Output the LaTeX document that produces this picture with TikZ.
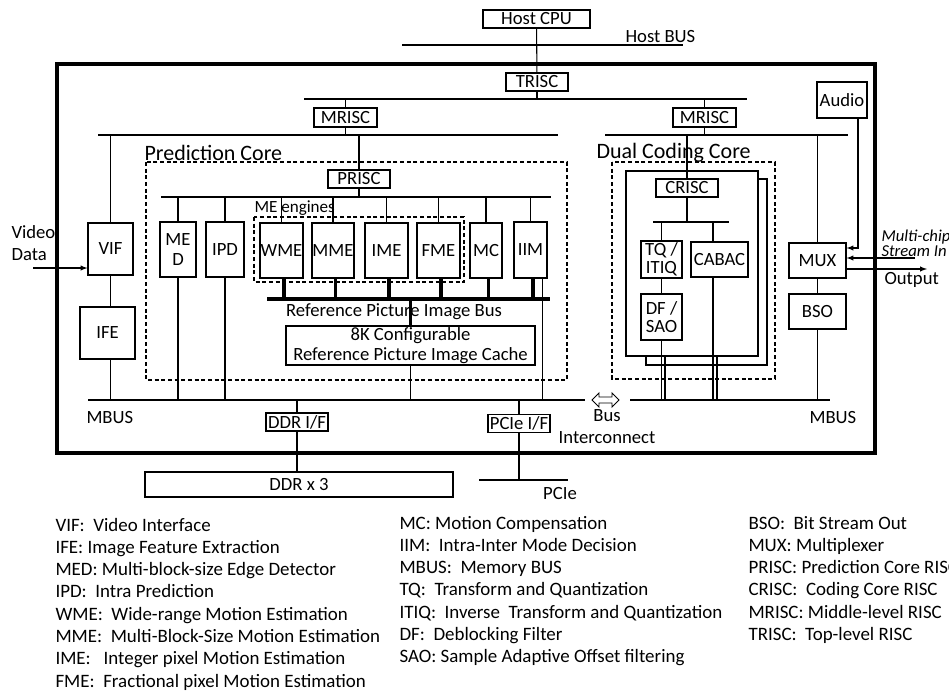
\documentclass[tikz,border=0pt]{standalone}
\usepackage{fontspec}
\setmainfont{Carlito}
\usetikzlibrary{arrows}

\tikzset{
  blk/.style 2 args={draw, inner sep=0pt, align=center,
    minimum width=#1*0.75pt, minimum height=#2*0.75pt},
  thickbus/.style={line width=2.6pt},
  core/.style={dash pattern=on 3pt off 2pt},
  lbl/.style={anchor=west, inner sep=0pt},
  legend/.style={anchor=base west, inner sep=0pt, font=\fontsize{14.2}{15}\selectfont},
}

\begin{document}
\begin{tikzpicture}[x=0.75pt, y=-0.75pt, line width=0.8pt,
  font=\fontsize{14}{14.5}\selectfont]
\useasboundingbox (0,0) rectangle (949,693);

% chip outline
\draw[line width=2.3pt] (57,64) rectangle (875,453);

% bus levels
\coordinate (hbus) at (0,45);
\coordinate (tbus) at (0,99);
\coordinate (mrbus) at (0,135);
\coordinate (pbus) at (0,197);
\coordinate (rbus) at (0,299);
\coordinate (mbus) at (0,400);
\coordinate (cbus) at (0,222);

% host side
\node[blk={107}{18}] (host) at (536.5,19) {Host CPU};
\draw (402,45) -- (683,45);
\node[lbl] (hostbus) at (625,37) {Host BUS};
\node[blk={62}{18}] (trisc) at (537,82) {TRISC};
\draw (host) -- (trisc);
\draw (304,99) -- (747,99);
\draw (trisc.south) -- (trisc.south |- tbus);

\node[blk={63}{19}] (mriscl) at (345.5,117.5) {MRISC};
\node[blk={63}{19}] (mriscr) at (704.5,117.5) {MRISC};
\foreach \n in {mriscl,mriscr}
  \draw (\n.north |- tbus) -- (\n.north) (\n.south) -- (\n.south |- mrbus);
\draw (98,135) -- (558,135);
\draw (605,135) -- (848,135);

% video input
\node[blk={45}{52}] (vif) at (110.5,249) {VIF};
\node[blk={55}{52}] (ife) at (107.5,333) {IFE};
\node[lbl, align=left, font=\fontsize{14}{16.5}\selectfont] (vdata) at (11,243) {Video\\Data};
\draw[-latex] (33,268) -- (vif.west |- 0,268);
\draw (vif.north |- mrbus) -- (vif.north);
\draw (vif.south) -- (vif.south |- ife.north);
\draw (vif.south |- ife.south) -- (vif.south |- mbus);

% prediction core
\node[lbl, font=\fontsize{16.5}{18}\selectfont] (pclabel) at (144,153) {Prediction Core};
\draw[core] (146,162) rectangle (567,380);
\node[blk={62}{18}] (prisc) at (359,179) {PRISC};
\draw (prisc.north |- mrbus) -- (prisc.north);
\draw (prisc.south) -- (prisc.south |- pbus);
\draw (161,197) -- (551,197);

\node[lbl, font=\fontsize{12.8}{14}\selectfont] (melabel) at (254,208) {ME engines};
\draw[core] (254,217) rectangle (464,282);

\node[blk={36}{55}] (med) at (178,249.5) {ME\\D};
\node[blk={38}{55}] (ipd) at (225,249.5) {IPD};
\node[blk={43}{55}] (wme) at (281.5,250.5) {WME};
\node[blk={42}{55}] (mme) at (333,250.5) {MME};
\node[blk={43}{55}] (ime) at (386.5,250.5) {IME};
\node[blk={43}{55}] (fme) at (438.5,250.5) {FME};
\node[blk={32}{55}] (mc) at (486,250.5) {MC};
\node[blk={33}{56}] (iim) at (530.5,250) {IIM};

\foreach \n in {med,ipd,wme,mme,ime,fme,mc,iim}
  \draw (\n.north |- pbus) -- (\n.north);
\foreach \n in {med,ipd}
  \draw (\n.south) -- (\n.south |- mbus);
\foreach \n in {wme,mme,ime,fme,mc,iim}
  \draw[thickbus] ([xshift=2pt]\n.south) -- ([xshift=2pt]\n.south |- rbus);
\draw[thickbus] (267,299) -- (550,299);
\draw ([xshift=9pt]iim.south) -- ([xshift=9pt]iim.south |- mbus);
\node (rbuslabel) at (394,312) {Reference Picture Image Bus};

\node[blk={249}{39}] (cache) at (410.5,345.5) {8K Configurable\\Reference Picture Image Cache};
\draw[thickbus] (cache.north |- rbus) -- (cache.north);
\draw (cache.south) -- (cache.south |- mbus);

% memory bus and interfaces
\draw (88,400) -- (585,400);
\draw (630,400) -- (830,400);
\node[lbl] (mbusl) at (86,418) {MBUS};
\node[lbl] (mbusr) at (809,418) {MBUS};
\draw[fill=white, line width=0.7pt] (592,400) -- (599,393) -- (599,397) -- (612,397) -- (612,393)
  -- (619,400) -- (612,407) -- (612,403) -- (599,403) -- (599,407) -- cycle;
\node[align=center, font=\fontsize{14}{16.5}\selectfont] (bic) at (607,427) {Bus\\Interconnect};

\node[blk={62}{18}] (ddrif) at (297,422) {DDR I/F};
\node[blk={308}{25}] (ddr) at (299,484.5) {DDR x 3};
\draw (ddrif.north |- mbus) -- (ddrif.north);
\draw (ddrif.south) -- (ddrif.south |- ddr.north);

\node[blk={62}{18}] (pcieif) at (519,423.5) {PCIe I/F};
\draw (pcieif.north |- mbus) -- (pcieif.north);
\draw (pcieif.south) -- (pcieif.south |- 0,480);
\draw (479,480) -- (568,480);
\node (pcie) at (560,493) {PCIe};

% dual coding core
\node[lbl, font=\fontsize{16.5}{18}\selectfont] (dclabel) at (596,153) {Dual Coding Core};
\draw[core] (612,162) rectangle (775,379);
\draw (758,179) -- (767,179) -- (767,365) -- (646,365) -- (646,356);
\draw (626,171) rectangle (758,356);
\node[blk={62}{18}] (crisc) at (687,188) {CRISC};
\draw (crisc.north |- mrbus) -- (crisc.north);
\draw (crisc.south) -- (crisc.south |- cbus);
\draw (653,222) -- (729,222);
\node[blk={41}{37}, font=\fontsize{14}{13.5}\selectfont] (tq) at (661.5,259.5) {TQ /\\ITIQ};
\node[blk={57}{35}] (cabac) at (719.5,259.5) {CABAC};
\node[blk={41}{46}, font=\fontsize{14}{13.5}\selectfont] (df) at (661.5,317) {DF /\\SAO};
\draw (tq.north |- cbus) -- (tq.north);
\draw (713,0 |- cbus) -- (713,0 |- cabac.north);
\draw (tq.south) -- (df.north);
\draw (df.south) -- (df.south |- mbus);
\draw (665,356) -- (665,400);
\draw (713,0 |- cabac.south) -- (713,400);
\draw (717,356) -- (717,400);

% output side
\node[blk={50}{36}] (audio) at (842,100) {Audio};
\node[blk={57}{35}] (mux) at (817.5,260.5) {MUX};
\node[blk={57}{35}] (bso) at (817.5,311.5) {BSO};
\draw (mux.north |- mrbus) -- (mux.north);
\draw (mux.south) -- (bso.north);
\draw (bso.south) -- (bso.south |- mbus);
\draw[-latex] (858,0 |- audio.south) |- (mux.east |- 0,248);
\draw[-latex] (915,258) -- (mux.east |- 0,258);
\draw[-latex] (mux.east |- 0,269) -- (927,269);
\node[lbl, align=left, font=\itshape\fontsize{12.5}{11.5}\selectfont] (mchip) at (881,243) {Multi-chip\\Stream In};
\node[lbl] (output) at (884,280) {Output};

% legend
\foreach \t [count=\i] in {VIF:\ \ Video Interface, IFE: Image Feature Extraction,
  MED: Multi-block-size Edge Detector, IPD:\ \ Intra Prediction,
  WME:\ \ Wide-range Motion Estimation, MME:\ \ Multi-Block-Size Motion Estimation,
  IME:\ \ \ Integer pixel Motion Estimation, FME:\ \ Fractional pixel Motion Estimation}
  \node[legend] at (55,{531+22.3*(\i-1)}) {\t};
\foreach \t [count=\i] in {MC: Motion Compensation, IIM:\ \ Intra-Inter Mode Decision,
  MBUS:\ \ Memory BUS, TQ:\ \ Transform and Quantization,
  ITIQ:\ \ Inverse\ \ Transform and Quantization, DF:\ \ Deblocking Filter,
  SAO: Sample Adaptive Offset filtering}
  \node[legend] at (399,{529+22.3*(\i-1)}) {\t};
\foreach \t [count=\i] in {BSO:\ \ Bit Stream Out, MUX: Multiplexer,
  PRISC: Prediction Core RISC, CRISC:\ \ Coding Core RISC,
  MRISC: Middle-level RISC, TRISC:\ \ Top-level RISC}
  \node[legend] at (748,{529+22.3*(\i-1)}) {\t};

\end{tikzpicture}
\end{document}
